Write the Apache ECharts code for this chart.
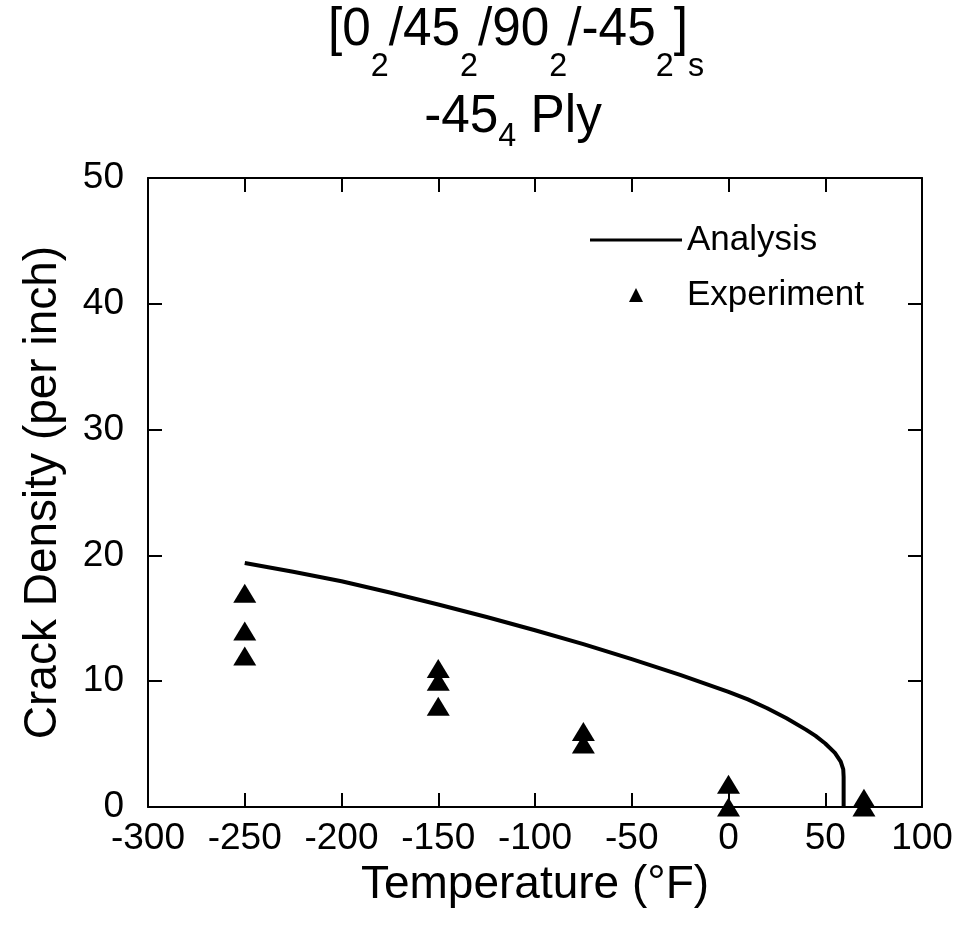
<!DOCTYPE html>
<html>
<head>
<meta charset="utf-8">
<script src="https://cdn.jsdelivr.net/npm/echarts@6/dist/echarts.min.js"></script>
<style>
  html, body { margin: 0; padding: 0; background: #fff; }
  #chart { width: 962px; height: 930px; }
</style>
</head>
<body>
<div id="chart"></div>
<script>
// analysis curve (temperature °F, crack density per inch)
var analysisTemp = [-250, -225, -200, -175, -150, -125, -100, -75, -50, -25, 0, 10, 20, 30, 40, 45, 50, 55, 58, 59.3, 59.5, 59.5];
var analysisDensity = [19.4, 18.7, 17.95, 17.05, 16.1, 15.1, 14.05, 12.95, 11.75, 10.5, 9.15, 8.55, 7.85, 7.05, 6.15, 5.65, 5.05, 4.3, 3.6, 3.0, 2.4, 0];

// experiment points
var expTemp = [-250, -250, -250, -150, -150, -150, -75, -75, 0, 0, 70, 70];
var expDensity = [17, 14, 12, 11, 10, 8, 6, 5, 1.8, 0, 0.7, 0];

var xTicks = { min: -300, max: 100, interval: 50 };
var yTicks = { min: 0, max: 50, interval: 10 };

var font = 'Liberation Sans';

var zip = function (xs, ys) {
    return xs.map(function (x, i) { return [x, ys[i]]; });
};

var axisLine = { show: true, onZero: false, lineStyle: { color: '#000', width: 2 } };
var axisTick = { show: true, inside: true, length: 14, lineStyle: { color: '#000', width: 2 } };

var chart = echarts.init(document.getElementById('chart'));
chart.setOption({
    backgroundColor: '#fff',
    animation: false,
    grid: { left: 148, right: 40, top: 178, bottom: 123 },
    graphic: [
        {
            type: 'text', x: 516, y: 3, scaleX: 0.95,
            style: {
                text: '{m|[0}{s|2}{m|/45}{s|2}{m|/90}{s|2}{m|/-45}{s|2}{m|]}{s|s}',
                textAlign: 'center', textVerticalAlign: 'top',
                rich: {
                    m: { fontFamily: font, fontSize: 54, lineHeight: 54, verticalAlign: 'top', fill: '#000' },
                    s: { fontFamily: font, fontSize: 34, lineHeight: 34, verticalAlign: 'top', padding: [47, 0, 0, 0], fill: '#000' }
                }
            }
        },
        {
            type: 'text', x: 513, y: 90, scaleX: 0.95,
            style: {
                text: '{m|-45}{s|4}{m| Ply}',
                textAlign: 'center', textVerticalAlign: 'top',
                rich: {
                    m: { fontFamily: font, fontSize: 54, lineHeight: 54, verticalAlign: 'top', fill: '#000' },
                    s: { fontFamily: font, fontSize: 34, lineHeight: 34, verticalAlign: 'top', padding: [30, 0, 0, 0], fill: '#000' }
                }
            }
        }
    ],
    legend: {
        orient: 'vertical',
        left: 585,
        top: 217,
        itemWidth: 92,
        itemHeight: 14,
        itemGap: 19,
        textStyle: { fontFamily: font, fontSize: 35, lineHeight: 36, color: '#000' },
        data: [
            { name: 'Analysis', icon: 'path://M0,0L92,0L92,3L0,3Z' },
            { name: 'Experiment', icon: 'path://M7,0L14,14L0,14Z' }
        ]
    },
    xAxis: [
        {
            type: 'value', position: 'bottom',
            min: xTicks.min, max: xTicks.max, interval: xTicks.interval,
            axisLine: axisLine, axisTick: axisTick, splitLine: { show: false },
            axisLabel: { fontFamily: font, fontSize: 37, color: '#000', margin: 13 },
            name: 'Temperature (°F)', nameLocation: 'middle', nameGap: 55,
            nameTextStyle: { fontFamily: font, fontSize: 46, color: '#000' }
        },
        {
            type: 'value', position: 'top',
            min: xTicks.min, max: xTicks.max, interval: xTicks.interval,
            axisLine: axisLine, axisTick: axisTick, splitLine: { show: false },
            axisLabel: { show: false }
        }
    ],
    yAxis: [
        {
            type: 'value', position: 'left',
            min: yTicks.min, max: yTicks.max, interval: yTicks.interval,
            axisLine: axisLine, axisTick: axisTick, splitLine: { show: false },
            axisLabel: { fontFamily: font, fontSize: 37, color: '#000', margin: 24 },
            name: 'Crack Density (per inch)', nameLocation: 'middle', nameGap: 82,
            nameTextStyle: { fontFamily: font, fontSize: 46, color: '#000' }
        },
        {
            type: 'value', position: 'right',
            min: yTicks.min, max: yTicks.max, interval: yTicks.interval,
            axisLine: axisLine, axisTick: axisTick, splitLine: { show: false },
            axisLabel: { show: false }
        }
    ],
    series: [
        {
            name: 'Analysis',
            type: 'line',
            data: zip(analysisTemp, analysisDensity),
            showSymbol: false,
            symbol: 'none',
            lineStyle: { color: '#000', width: 4, join: 'round' },
            itemStyle: { color: '#000' },
            z: 3
        },
        {
            name: 'Experiment',
            type: 'scatter',
            data: zip(expTemp, expDensity),
            symbol: 'triangle',
            symbolSize: [23, 19],
            itemStyle: { color: '#000', opacity: 1 },
            clip: false,
            z: 4
        }
    ]
});
</script>
</body>
</html>
